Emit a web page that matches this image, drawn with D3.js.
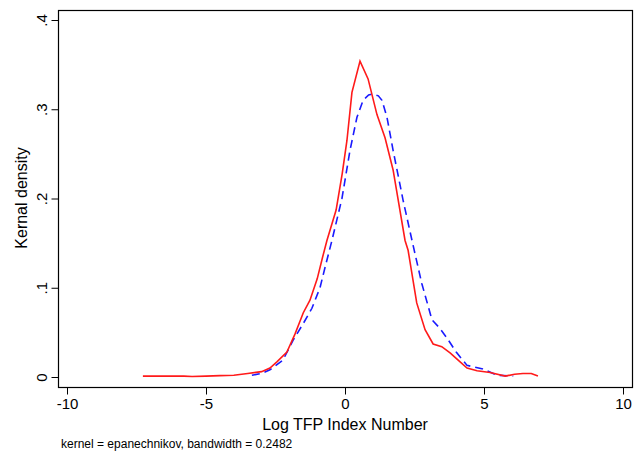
<!doctype HTML>
<html>
<head>
  <meta charset="utf-8">
  <script type="text/javascript" src="https://cdn.jsdelivr.net/npm/d3@7"></script>
  <style>
    body { margin: 0; background: #fff; }
    text { font-family: "Liberation Sans", Arial, sans-serif; fill: #000; }
  </style>
</head>
<body>
<div id="chart"></div>
<script>

// red solid curve
var redX = [-7.27, -6.5, -5.8, -5.5, -5.0, -4.5, -4.0, -3.5, -3.0, -2.7, -2.45, -2.09, -1.8, -1.5, -1.26, -1.0, -0.8, -0.65, -0.32, -0.1, 0.07, 0.25, 0.54, 0.83, 1.15, 1.44, 1.73, 2.16, 2.27, 2.58, 2.88, 3.17, 3.48, 3.78, 4.1, 4.39, 4.75, 5.22, 5.76, 6.1, 6.4, 6.7, 6.94];
var redY = [0.001, 0.001, 0.001, 0.0005, 0.001, 0.0015, 0.002, 0.004, 0.006, 0.01, 0.017, 0.028, 0.048, 0.072, 0.086, 0.11, 0.135, 0.153, 0.187, 0.228, 0.265, 0.319, 0.354, 0.334, 0.294, 0.268, 0.232, 0.153, 0.142, 0.083, 0.053, 0.037, 0.034, 0.027, 0.018, 0.010, 0.007, 0.005, 0.001, 0.003, 0.004, 0.004, 0.001];

// blue dashed curve
var blueX = [-3.35, -3.0, -2.7, -2.23, -1.87, -1.5, -1.19, -0.9, -0.7, -0.47, -0.11, 0.18, 0.43, 0.65, 0.85, 1.0, 1.2, 1.33, 1.51, 1.73, 2.09, 2.41, 2.76, 3.13, 3.4, 3.66, 4.0, 4.39, 4.96, 5.47, 6.05];
var blueY = [0.002, 0.004, 0.008, 0.019, 0.041, 0.06, 0.077, 0.1, 0.125, 0.153, 0.2, 0.254, 0.291, 0.31, 0.316, 0.317, 0.315, 0.31, 0.291, 0.254, 0.198, 0.153, 0.105, 0.064, 0.055, 0.044, 0.028, 0.013, 0.009, 0.002, 0.001];

var xTicks = [-10, -5, 0, 5, 10];
var xTickLabels = ["-10", "-5", "0", "5", "10"];
var yTicks = [0, 0.1, 0.2, 0.3, 0.4];
var yTickLabels = ["0", ".1", ".2", ".3", ".4"];

var width = 635, height = 457;
var svg = d3.select("#chart").append("svg")
  .attr("width", width).attr("height", height);

var x = d3.scaleLinear().domain([-10, 10]).range([67, 623]);
var y = d3.scaleLinear().domain([0, 0.4]).range([377, 20]);

// plot frame
svg.append("rect")
  .attr("x", 58.5).attr("y", 10.5)
  .attr("width", 574).attr("height", 377)
  .attr("fill", "none").attr("stroke", "#000").attr("stroke-width", 1.2);

var xAxis = svg.append("g")
  .attr("transform", "translate(0,387.5)")
  .call(d3.axisBottom(x).tickValues(xTicks).tickSize(7).tickPadding(4)
    .tickFormat(function(d) { return xTickLabels[xTicks.indexOf(d)]; }));
xAxis.select(".domain").remove();
xAxis.selectAll("text").style("font-size", "15px").style("font-family", "Liberation Sans, Arial, sans-serif");

var yAxis = svg.append("g")
  .attr("transform", "translate(58.5,0)")
  .call(d3.axisLeft(y).tickValues(yTicks).tickSize(7)
    .tickFormat(function(d) { return yTickLabels[yTicks.indexOf(d)]; }));
yAxis.select(".domain").remove();
yAxis.selectAll("text")
  .style("font-size", "15px").style("font-family", "Liberation Sans, Arial, sans-serif")
  .attr("x", 0).attr("y", 0).attr("dy", "0.35em")
  .attr("text-anchor", "middle")
  .attr("transform", "translate(-17,0) rotate(-90)");

var line = d3.line()
  .x(function(d) { return x(d[0]); })
  .y(function(d) { return y(d[1]); });

svg.append("path")
  .datum(blueX.map(function(v, i) { return [v, blueY[i]]; }))
  .attr("d", line)
  .attr("fill", "none").attr("stroke", "#1a1aff").attr("stroke-width", 1.6)
  .attr("stroke-dasharray", "8,5");

svg.append("path")
  .datum(redX.map(function(v, i) { return [v, redY[i]]; }))
  .attr("d", line)
  .attr("fill", "none").attr("stroke", "#ff1a1a").attr("stroke-width", 1.6);

svg.append("text")
  .attr("x", 345).attr("y", 430)
  .attr("text-anchor", "middle").style("font-size", "16px")
  .text("Log TFP Index Number");

svg.append("text")
  .attr("transform", "translate(27,198) rotate(-90)")
  .attr("text-anchor", "middle").style("font-size", "16px")
  .text("Kernal density");

svg.append("text")
  .attr("x", 61).attr("y", 448)
  .style("font-size", "12px")
  .text("kernel = epanechnikov, bandwidth = 0.2482");

</script>
</body>
</html>
